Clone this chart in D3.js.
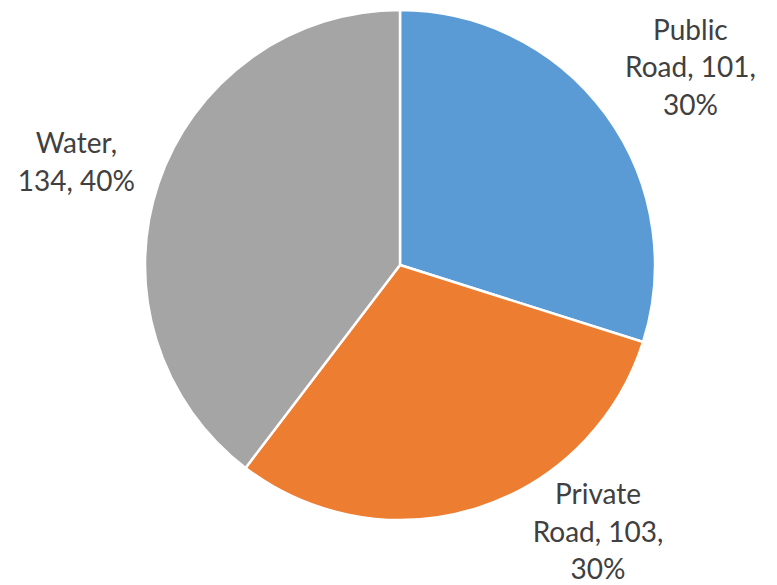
<!DOCTYPE html>
<html>
<head>
<meta charset="utf-8">
<script src="https://cdn.jsdelivr.net/npm/d3@7"></script>
<style>
  body { margin: 0; background: #fff; }
  text { font-family: Lato, "Open Sans", sans-serif; }
</style>
</head>
<body>
<div class="canva"></div>
<script>
// data
const labels = ["Public Road", "Private Road", "Water"];
const values = [101, 103, 134];
const colors = ["#5b9bd5", "#ed7d31", "#a5a5a5"];
// how each label wraps (Excel style)
const labelLines = [
    ["Public", "Road, 101,", "30%"],
    ["Private", "Road, 103,", "30%"],
    ["Water,", "134, 40%"]
];

var width = 777,
    height = 585,
    cx = 400, cy = 265,
    radius = 255,
    labelRadius = 350,
    lineH = 37.5;

const svg = d3.select(".canva").append("svg")
    .attr("width", width)
    .attr("height", height)
    .attr("viewBox", [0, 0, width, height]);

const pie = d3.pie().sort(null).value(d => d);
const arcs = pie(values);

const arc = d3.arc().innerRadius(0).outerRadius(radius);

const g = svg.append("g").attr("transform", `translate(${cx},${cy})`);

g.selectAll("path")
    .data(arcs)
    .join("path")
    .attr("d", arc)
    .attr("fill", (d, i) => colors[i])
    .attr("stroke", "#fff")
    .attr("stroke-width", 2.5)
    .attr("stroke-linejoin", "round");

// label placement: outside at mid angle, pushed back in if it would run off the bottom
const maxY = 267;
const lab = g.selectAll("g.lab")
    .data(arcs)
    .join("g")
    .attr("class", "lab")
    .attr("transform", (d, i) => {
        const a = (d.startAngle + d.endAngle) / 2;
        let x = Math.sin(a) * labelRadius + 8;
        let y = -Math.cos(a) * labelRadius + 9;
        if (y > maxY) {
            y = maxY;
            x = Math.sign(x) * Math.sqrt(labelRadius * labelRadius - y * y) * 0.875;
        }
        return `translate(${x},${y})`;
    });

lab.each(function(d, i) {
    const lines = labelLines[i];
    const n = lines.length;
    d3.select(this).selectAll("text")
        .data(lines)
        .join("text")
        .attr("text-anchor", "middle")
        .attr("y", (t, j) => (j - (n - 1) / 2) * lineH)
        .attr("dy", "0.35em")
        .attr("fill", "#404040")
        .attr("font-size", 28)
        .text(t => t);
});
</script>
</body>
</html>
